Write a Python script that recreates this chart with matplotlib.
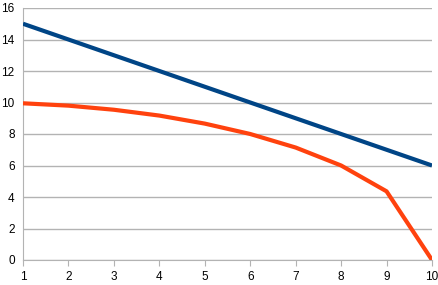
import matplotlib
matplotlib.use("Agg")
import matplotlib.pyplot as plt

x = [1, 2, 3, 4, 5, 6, 7, 8, 9, 10]
blue = [15, 14, 13, 12, 11, 10, 9, 8, 7, 6]
orange = [9.95, 9.8, 9.54, 9.17, 8.66, 8.0, 7.14, 6.0, 4.36, 0.0]
yticks = [0, 2, 4, 6, 8, 10, 12, 14, 16]

plt.rcParams['font.family'] = ['Liberation Sans', 'DejaVu Sans']
fig = plt.figure(figsize=(4.39, 2.85), dpi=100)
ax = fig.add_axes([23/439, 25/285, (432-23)/439, (260-8)/285])
ax.plot(x, blue, color='#004586', lw=3.0, solid_capstyle='butt', zorder=3)
ax.plot(x, orange, color='#ff420e', lw=3.0, solid_capstyle='butt', zorder=3)
ax.set_xlim(1, 10)
ax.set_ylim(0, 16)
ax.set_xticks(x)
ax.set_yticks(yticks)
ax.grid(axis='y', color='#b3b3b3', lw=1)
ax.set_axisbelow(True)
for s in ['top', 'right']:
    ax.spines[s].set_visible(False)
ax.spines['left'].set_color('#b3b3b3')
ax.spines['bottom'].set_color('#b3b3b3')
ax.tick_params(axis='y', length=0, pad=6, labelsize=8.5)
ax.tick_params(axis='x', length=4, color='#b3b3b3', pad=4, labelsize=8.5)
fig.savefig('out.png', dpi=100)
